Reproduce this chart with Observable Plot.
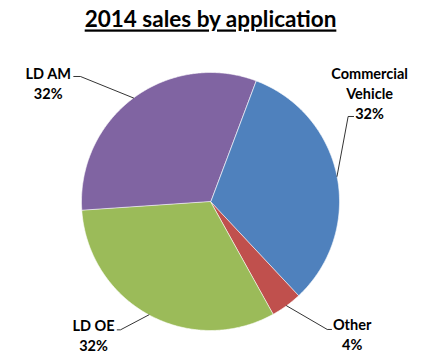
<!DOCTYPE html>
<html><head><meta charset="utf-8">
<script src="https://cdn.jsdelivr.net/npm/d3@7"></script>
<script src="https://cdn.jsdelivr.net/npm/@observablehq/plot@0.6"></script>
<style>body{margin:0;background:#fff}</style>
</head><body><div id="chart"></div>
<script>
// ---- data ----
const categories = ["Commercial Vehicle", "Other", "LD OE", "LD AM"];
const shares = [32.3, 3.9, 32.0, 31.8];
const labelNames = ["Commercial\nVehicle", "Other", "LD OE", "LD AM"];
const titleText = "2014 sales by application";

// ---- style / layout (not data) ----
const colors = ["#4F81BD", "#C0504D", "#9BBB59", "#8064A2"];
const startDeg = 20.6;
const labelCenters = [[1.233, 0.847], [1.098, -1.026], [-0.907, -1.033], [-1.258, 0.925]];
const knees = [[1.067, 0.659], [0.905, -0.992], [-0.698, -0.995], [-1.008, 0.969]];
const ends = [[1.109, 0.659], [0.938, -0.992], [-0.723, -0.995], [-1.06, 0.969]];

const pie = d3.pie().sort(null).startAngle(startDeg * Math.PI / 180).endAngle(startDeg * Math.PI / 180 + 2 * Math.PI);
const arcs = pie(shares);

const slicePts = [];
arcs.forEach((a, i) => {
  const key = categories[i];
  slicePts.push({key, x: 0, y: 0});
  const n = Math.max(4, Math.ceil((a.endAngle - a.startAngle) / (Math.PI / 360)));
  for (let k = 0; k <= n; k++) {
    const t = a.startAngle + (a.endAngle - a.startAngle) * k / n;
    slicePts.push({key, x: Math.sin(t), y: Math.cos(t)});
  }
});

const leaders = [];
arcs.forEach((a, i) => {
  const m = (a.startAngle + a.endAngle) / 2;
  leaders.push({key: categories[i], x: Math.sin(m), y: Math.cos(m)});
  leaders.push({key: categories[i], x: knees[i][0], y: knees[i][1]});
  leaders.push({key: categories[i], x: ends[i][0], y: ends[i][1]});
});

const labels = categories.map((c, i) => ({
  x: labelCenters[i][0], y: labelCenters[i][1],
  text: `${labelNames[i]}\n${Math.round(shares[i])}%`
}));

const chart = Plot.plot({
  width: 436, height: 360,
  margin: 0,
  style: {fontFamily: "Lato, sans-serif", background: "#fff"},
  x: {domain: [-1, 1], range: [81, 339], axis: null},
  y: {domain: [-1, 1], range: [330, 72], axis: null},
  color: {domain: categories, range: colors},
  marks: [
    Plot.line(slicePts, {x: "x", y: "y", z: "key", fill: "key", stroke: "#fff", strokeWidth: 0.6, curve: "linear-closed", clip: false}),
    Plot.line(leaders, {x: "x", y: "y", z: "key", stroke: "#000", strokeWidth: 0.8}),
    Plot.text(labels, {x: "x", y: "y", text: "text", fontSize: 14.5, fontWeight: "bold", fill: "#000", lineHeight: 1.38, lineAnchor: "middle", textAnchor: "middle"}),
    Plot.text([titleText], {x: () => 0, y: () => 1.405, text: d => d, fontSize: 22.5, fontWeight: "bold", fill: "#000", lineAnchor: "middle", className: "ttl"})
  ]
});
d3.select(chart).selectAll(".ttl text").style("text-decoration", "underline");
document.getElementById("chart").appendChild(chart);
</script>
</body></html>
